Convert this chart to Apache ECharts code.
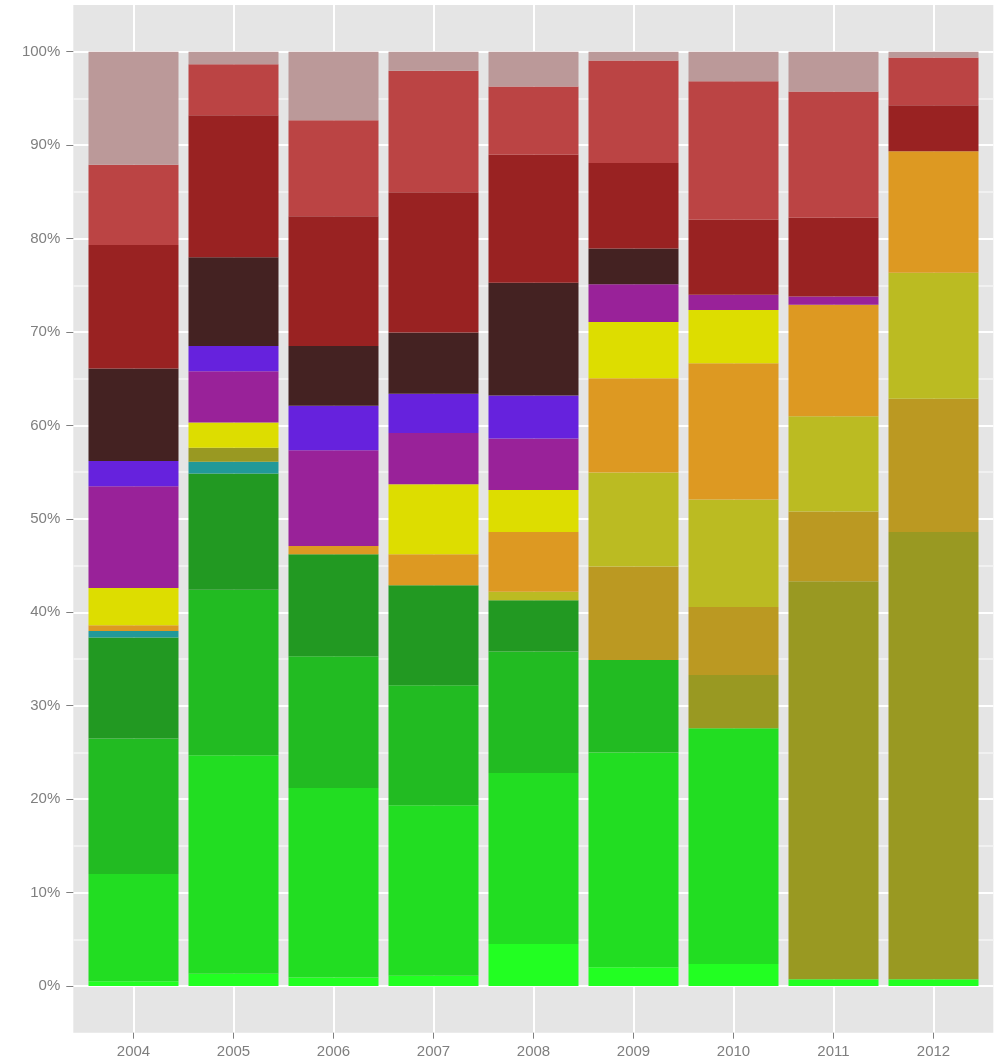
<!DOCTYPE html>
<html>
<head>
<meta charset="utf-8">
<script src="https://cdn.jsdelivr.net/npm/echarts@6/dist/echarts.min.js"></script>
<style>
html,body{margin:0;padding:0;background:#fff;}
#chart{width:995px;height:1062px;}
</style>
</head>
<body>
<div id="chart"></div>
<script>
// Categories (years)
const years = ['2004','2005','2006','2007','2008','2009','2010','2011','2012'];
// Y tick labels (percent)
const yTicks = [0,10,20,30,40,50,60,70,80,90,100];

// Series values in percent, bottom of the stack first
const sLime      = [0.5, 1.3, 0.9, 1.1, 4.5, 2.0, 2.36, 0.72, 0.72];
const sBright    = [11.5, 23.4, 20.3, 18.25, 18.3, 23.0, 25.24, 0, 0];
const sGreen     = [14.5, 17.7, 14.1, 12.85, 13.0, 9.9, 0, 0, 0];
const sDarkGreen = [10.8, 12.45, 10.9, 10.7, 5.5, 0, 0, 0, 0];
const sTeal      = [0.7, 1.25, 0, 0, 0, 0, 0, 0, 0];
const sOlive     = [0, 1.5, 0, 0, 0, 0, 5.68, 42.59, 47.88];
const sGold      = [0, 0, 0, 0, 0, 10.0, 7.29, 7.47, 14.25];
const sYellowGrn = [0, 0, 0, 0, 0.9, 10.05, 11.49, 10.21, 13.5];
const sOrange    = [0.6, 0, 0.9, 3.3, 6.4, 10.1, 14.6, 11.93, 12.99];
const sYellow    = [4.0, 2.7, 0, 7.5, 4.5, 6.0, 5.69, 0, 0];
const sPurple    = [10.9, 5.5, 10.25, 5.5, 5.5, 4.04, 1.64, 0.88, 0];
const sViolet    = [2.7, 2.7, 4.75, 4.2, 4.6, 0, 0, 0, 0];
const sBrown     = [9.9, 9.5, 6.4, 6.55, 12.07, 3.85, 0, 0, 0];
const sDarkRed   = [13.2, 15.2, 13.9, 15.0, 13.71, 9.15, 8.03, 8.44, 4.93];
const sRed       = [8.6, 5.46, 10.26, 13.0, 7.29, 10.95, 14.82, 13.49, 5.1];
const sPink      = [12.1, 1.34, 7.34, 2.05, 3.73, 0.95, 3.16, 4.27, 0.63];

const seriesData = [sLime, sBright, sGreen, sDarkGreen, sTeal, sOlive, sGold, sYellowGrn,
                    sOrange, sYellow, sPurple, sViolet, sBrown, sDarkRed, sRed, sPink];
const seriesNames = ['lime','bright green','green','dark green','teal','olive','goldenrod','yellow green',
                     'orange','yellow','purple','violet','brown','dark red','red','rose'];
const palette = ['#22FF22','#22DD22','#22BB22','#229922','#229999','#999922','#BB9922','#BBBB22',
                 '#DD9922','#DDDD00','#992299','#6622DD','#442222','#992222','#BB4444','#BB9999'];

// position = fill: normalise each year to 100%
const totals = years.map((_, i) => seriesData.reduce((a, s) => a + s[i], 0));

const textColor = '#7f7f7f';
const font = 'Liberation Sans, Arial, Helvetica, sans-serif';

const chart = echarts.init(document.getElementById('chart'), null, {renderer: 'canvas'});
chart.setOption({
  animation: false,
  backgroundColor: '#ffffff',
  textStyle: {fontFamily: font},
  grid: [
    // panel (background + minor horizontal lines)
    {left: 73.3, top: 5, width: 920, height: 1027.7, show: true, backgroundColor: '#e5e5e5', borderWidth: 0, z: -1},
    // x axis + vertical grid lines at category centres
    {left: 133.5, top: 5, width: 800, height: 1027.7},
    // y axis labels + major horizontal lines
    {left: 73.3, top: 51.7, width: 920, height: 934.3},
    // bars
    {left: 83.5, top: 51.7, width: 900, height: 934.3}
  ],
  xAxis: [
    {gridIndex: 0, type: 'value', min: 0, max: 1, show: false},
    {gridIndex: 1, type: 'category', data: years, boundaryGap: false,
     axisLine: {show: false},
     axisTick: {show: true, length: 6, lineStyle: {color: textColor, width: 1}},
     axisLabel: {color: textColor, fontSize: 15, margin: 12, fontFamily: font},
     splitLine: {show: true, lineStyle: {color: '#ffffff', width: 2}}},
    {gridIndex: 2, type: 'value', min: 0, max: 1, show: false},
    {gridIndex: 3, type: 'category', data: years, show: false}
  ],
  yAxis: [
    {gridIndex: 0, type: 'value', min: -5, max: 105, interval: 10,
     axisLine: {show: false}, axisTick: {show: false}, axisLabel: {show: false},
     splitLine: {show: true, showMinLine: false, showMaxLine: false, lineStyle: {color: '#f1f1f1', width: 2}}},
    {gridIndex: 1, type: 'value', min: 0, max: 1, show: false},
    {gridIndex: 2, type: 'value', min: yTicks[0], max: yTicks[yTicks.length - 1], interval: 10,
     axisLine: {show: false},
     axisTick: {show: true, length: 7, lineStyle: {color: textColor, width: 1}},
     axisLabel: {color: textColor, fontSize: 15, margin: 13, formatter: '{value}%', fontFamily: font},
     splitLine: {show: true, lineStyle: {color: '#ffffff', width: 2}}},
    {gridIndex: 3, type: 'value', min: 0, max: 100, show: false}
  ],
  series: seriesData.map((s, k) => ({
    name: seriesNames[k],
    type: 'bar',
    xAxisIndex: 3,
    yAxisIndex: 3,
    stack: 'total',
    barWidth: 90,
    itemStyle: {color: palette[k]},
    data: s.map((v, i) => v / totals[i] * 100)
  }))
});
</script>
</body>
</html>
